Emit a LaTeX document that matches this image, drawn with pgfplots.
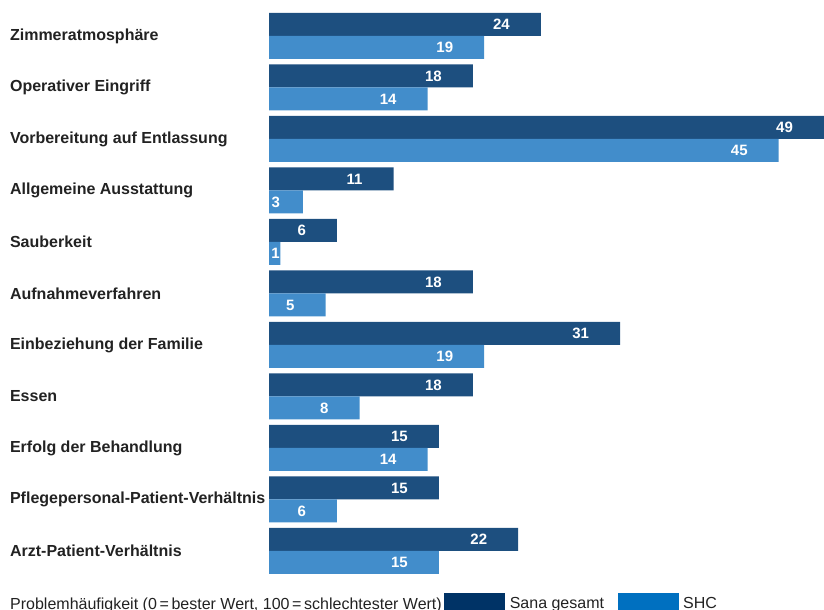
\documentclass[border=0pt]{standalone}
\usepackage{fontspec}
\setmainfont{Liberation Sans}
\usepackage{pgfplots}
\usepackage{pgfplotstable}
\pgfplotsset{compat=1.18}

\definecolor{sana}{HTML}{1D4F7F}
\definecolor{shc}{HTML}{428DCB}
\definecolor{sanaleg}{HTML}{003366}
\definecolor{shcleg}{HTML}{0070C0}
\definecolor{txt}{HTML}{222222}

% pos 10 = oberste Kategorie
\pgfplotstableread{
pos sana shc
10 24 19
9  18 14
8  49 45
7  11 3
6  6  1
5  18 5
4  31 19
3  18 8
2  15 14
1  15 6
0  22 15
}\data

\begin{document}
\begin{tikzpicture}
\begin{axis}[
  at={(269bp,33.25bp)}, anchor=south west,
  scale only axis, width=555bp, height=566.5bp,
  xbar, bar width=23bp,
  xmin=0, xmax=49, ymin=-0.5, ymax=10.5,
  axis x line=none, axis y line=left,
  y axis line style={draw=none}, ytick style={draw=none},
  ytick={0,...,10},
  yticklabels={Arzt-Patient-Verhältnis, Pflegepersonal-Patient-Verhältnis,
    Erfolg der Behandlung, Essen, Einbeziehung der Familie, Aufnahmeverfahren,
    Sauberkeit, Allgemeine Ausstattung, Vorbereitung auf Entlassung,
    Operativer Eingriff, Zimmeratmosphäre},
  yticklabel style={anchor=west, xshift=-257bp, inner xsep=0pt,
    font=\fontsize{16bp}{18bp}\selectfont\bfseries, text=txt},
  point meta=x,
  nodes near coords={\pgfmathprintnumber[assume math mode=true]{\pgfplotspointmeta}},
  visualization depends on={x \as \rawx},
  every node near coord/.append style={anchor=east, inner sep=0pt, text=white,
    font=\fontsize{15bp}{17bp}\selectfont\bfseries,
    xshift={-min(31,max(0,\rawx*11.327-11))}},
  legend columns=3,
  legend cell align=left,
  legend style={at={(axis description cs:-0.46667,-0.0600)}, anchor=south west,
    draw=none, fill=none, inner sep=0pt, nodes={inner sep=0pt},
    font=\fontsize{16bp}{18bp}\selectfont, text=txt},
]
\addlegendimage{empty legend}
\addlegendentry{Problemhäufigkeit (0\,=\,bester Wert, 100\,=\,schlechtester Wert)\hspace{2bp}\null}
\addplot[fill=sana, draw=none, bar shift=11.5bp,
  legend image code/.code={\fill[sanaleg] (0bp,-6bp) rectangle (61bp,11bp);}]
  table[x=sana, y=pos] {\data};
\addlegendentry{\hspace{5bp}Sana gesamt\hspace{14bp}\null}
\addplot[fill=shc, draw=none, bar shift=-11.5bp,
  legend image code/.code={\fill[shcleg] (0bp,-6bp) rectangle (61bp,11bp);}]
  table[x=shc, y=pos] {\data};
\addlegendentry{\hspace{4bp}SHC}
\end{axis}
\pgfresetboundingbox
\path (0,0) rectangle (824bp,610bp);
\end{tikzpicture}
\end{document}
